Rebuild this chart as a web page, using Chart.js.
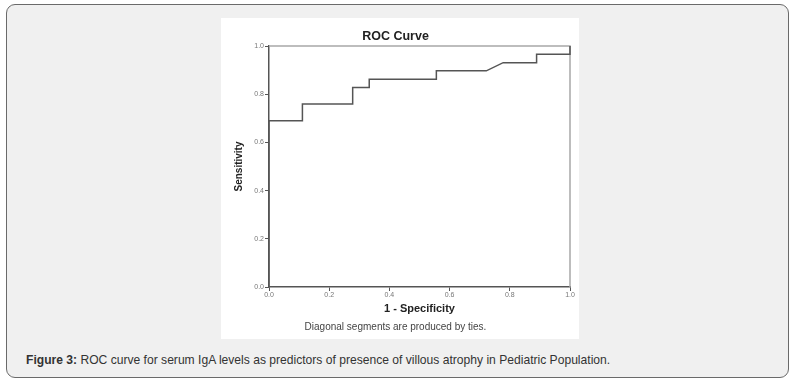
<!DOCTYPE html>
<html>
<head>
<meta charset="utf-8">
<script src="https://cdn.jsdelivr.net/npm/chart.js@4.4.0/dist/chart.umd.min.js"></script>
<style>
  body { margin: 0; background: #fff; font-family: Arial, "Liberation Sans", sans-serif; }
  .box {
    position: absolute; left: 6px; top: 4px; width: 781px; height: 372px;
    background: #f0f0f0; border: 1px solid #6a6a6a; border-radius: 9px;
  }
  .panel {
    position: absolute; left: 214px; top: 13px; width: 358px; height: 321px;
    background: #fff;
  }
  .caption {
    position: absolute; left: 19px; top: 348px; font-size: 12.1px; color: #333;
  }
</style>
</head>
<body>
<div class="box">
  <div class="panel"><canvas id="roc" width="358" height="321"></canvas></div>
  <div class="caption"><b>Figure 3:</b> ROC curve for serum IgA levels as predictors of presence of villous atrophy in Pediatric Population.</div>
</div>
<script>
// ROC curve points (1 - specificity, sensitivity)
const fpr = [0, 0, 0.111, 0.111, 0.278, 0.278, 0.333, 0.333, 0.556, 0.556, 0.722, 0.778, 0.889, 0.889, 1, 1];
const tpr = [0, 0.690, 0.690, 0.759, 0.759, 0.828, 0.828, 0.862, 0.862, 0.897, 0.897, 0.931, 0.931, 0.966, 0.966, 1];
const tickLabels = ['0.0', '0.2', '0.4', '0.6', '0.8', '1.0'];

const points = fpr.map((x, i) => ({ x: x, y: tpr[i] }));

// light frame on top and right of plot
const framePlugin = {
    id: 'frame',
    beforeDatasetsDraw(chart) {
        const a = chart.chartArea;
        const ctx = chart.ctx;
        ctx.save();
        ctx.strokeStyle = '#a8a8a8';
        ctx.lineWidth = 1.5;
        ctx.beginPath();
        ctx.moveTo(a.left, a.top);
        ctx.lineTo(a.right, a.top);
        ctx.lineTo(a.right, a.bottom);
        ctx.stroke();
        ctx.restore();
    }
};

const tickFont = { family: 'Arial', size: 7 };

new Chart(document.getElementById('roc'), {
    type: 'scatter',
    data: {
        datasets: [{
            data: points,
            showLine: true,
            borderColor: '#555',
            borderWidth: 1.5,
            pointRadius: 0,
            tension: 0,
            clip: false
        }]
    },
    options: {
        responsive: false,
        animation: false,
        layout: { padding: { left: 0, right: 9, top: 0, bottom: 0 } },
        plugins: {
            legend: { display: false },
            tooltip: { enabled: false },
            title: {
                display: true,
                text: 'ROC Curve',
                color: '#222',
                font: { family: 'Arial', size: 12.5, weight: 'bold' },
                padding: { top: 11, bottom: 2 }
            },
            subtitle: {
                display: true,
                position: 'bottom',
                text: 'Diagonal segments are produced by ties.',
                color: '#444',
                font: { family: 'Arial', size: 10 },
                padding: { top: 5, bottom: 6 }
            }
        },
        scales: {
            x: {
                type: 'linear', min: 0, max: 1,
                afterBuildTicks: s => { s.ticks = tickLabels.map(Number).map(v => ({ value: v })); },
                afterFit: s => { s.height = 29; },
                ticks: { color: '#777', font: tickFont, padding: 0, callback: v => v.toFixed(1) },
                grid: { drawOnChartArea: false, drawTicks: true, tickLength: 4, color: '#555' },
                border: { color: '#555', width: 1.5 },
                title: { display: true, text: '1 - Specificity', color: '#222',
                         font: { family: 'Arial', size: 11, weight: 'bold' }, padding: { top: 3, bottom: 0 } }
            },
            y: {
                type: 'linear', min: 0, max: 1,
                afterBuildTicks: s => { s.ticks = tickLabels.map(Number).map(v => ({ value: v })); },
                afterFit: s => { s.width = 48; },
                ticks: { color: '#777', font: tickFont, padding: 1, callback: v => v.toFixed(1) },
                grid: { drawOnChartArea: false, drawTicks: true, tickLength: 4, color: '#555' },
                border: { color: '#555', width: 1.5 },
                title: { display: true, text: 'Sensitivity', color: '#222',
                         font: { family: 'Arial', size: 10, weight: 'bold' }, padding: { top: 12, bottom: 0 } }
            }
        }
    },
    plugins: [framePlugin]
});
</script>
</body>
</html>
